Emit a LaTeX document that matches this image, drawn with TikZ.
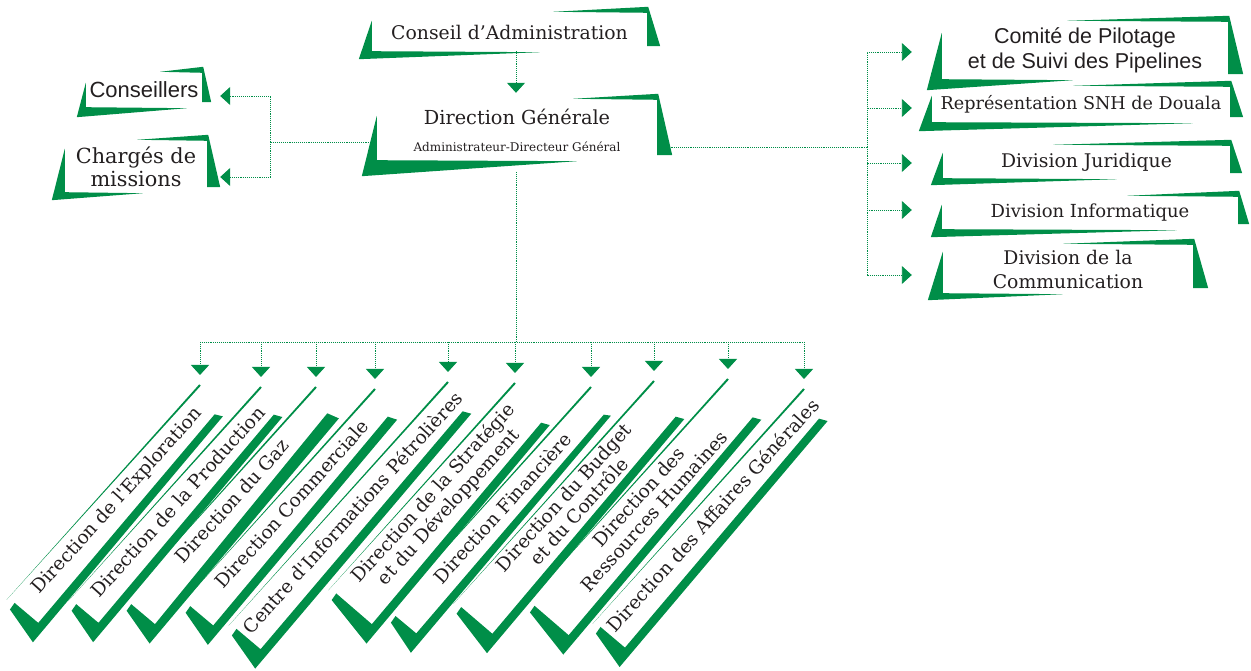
\documentclass[tikz,border=0pt]{standalone}
\usepackage{fontspec}
\setmainfont{DejaVu Serif}
\newfontfamily\sansfont{Liberation Sans}
\usetikzlibrary{arrows.meta}
\definecolor{snhgreen}{RGB}{0,142,72}
\definecolor{inkgray}{RGB}{35,31,32}

% green corners of an upright box: node, top tip, bottom tip, spread, band
\newcommand{\upribbon}[5]{%
  \fill[ribbon] ([xshift=-#2,yshift=1pt]#1.north east) -- ([xshift=1pt,yshift=6pt]#1.north east)
    -- ([xshift=#4,yshift=5pt]#1.south east) -- ([yshift=5pt]#1.south east) -- (#1.north east) -- cycle;
  \fill[ribbon] ([yshift=-#5]#1.north west) -- (#1.south west) -- ([xshift=#3,yshift=-1pt]#1.south west)
    -- ([xshift=-#4,yshift=-#5]#1.south west) -- cycle;}

% tilted box: name, top end x, y, length, height, bar width, text
\newcommand{\tiltbox}[7]{%
  \begin{scope}[shift={(#2,#3)},rotate=48]
    \fill[ribbon] (0,1) -- (-#4+14,0) -- (0,-1) -- cycle;
    \fill[ribbon] (-#4+9,-9) -- (-#4+17,-8) -- (-#4+18,-#5-1) -- (-12,-#5+#6)
      -- (-8,-#5) -- (-#4,-#5-10) -- cycle;
    \node[tilt] (#1) at (-#4/2+10,{-(#5-#6)/2-1}) {#7};
    \coordinate (#1-top) at (0,0);
  \end{scope}}

\begin{document}
\begin{tikzpicture}[x=1pt,y=1pt,
    dotline/.style={snhgreen,densely dotted,line width=0.9pt},
    flowarrow/.style={-{Triangle[width=18pt,length=10pt]}},
    ribbon/.style={fill=snhgreen},
    box/.style={inner sep=0pt,align=center,text=inkgray,font=\fontsize{18.8}{24}\selectfont},
    tilt/.style={inner sep=0pt,align=center,rotate=48,text=inkgray,font=\fontsize{18.6}{21}\selectfont}]
    \useasboundingbox (0,0) rectangle (1251,670);

    % upper boxes
    \node[box,minimum width=275,minimum height=38](ca) at (509.5,638) {Conseil d’Administration};
    \node[box,minimum width=280,minimum height=60](dg) at (517,540) {{\fontsize{19.3}{24}\selectfont Direction Générale}\\[3pt]{\fontsize{12}{15}\selectfont Administrateur-Directeur Général}};
    \node[box,minimum width=116,minimum height=34,font=\sansfont\fontsize{22}{26}\selectfont](cons) at (144,580) {Conseillers};
    \node[box,minimum width=142,minimum height=51,font=\fontsize{20.8}{23}\selectfont](charg) at (136,503.5) {Chargés de\\missions};
    \node[box,minimum width=286,minimum height=57,font=\sansfont\fontsize{21.5}{25}\selectfont](cpsp) at (1085,619.5) {Comité de Pilotage\\et de Suivi des Pipelines};
    \node[box,minimum width=298,minimum height=35,font=\fontsize{17.6}{22}\selectfont](rep) at (1081,565.5) {Représentation SNH de Douala};
    \node[box,minimum width=287,minimum height=32](jur) at (1086.5,508) {Division Juridique};
    \node[box,minimum width=296,minimum height=32,font=\fontsize{18}{22}\selectfont](info) at (1090,457) {Division Informatique};
    \node[box,minimum width=250,minimum height=48](comm) at (1068,401) {Division de la\\Communication};

    % links
    \coordinate (lhub) at (270,528);
    \coordinate (rhub) at (867,523);
    \coordinate (bus) at (516,328);
    \draw[dotline,flowarrow] (bus |- ca.south) -- ([yshift=7pt]dg.north -| bus);
    \draw[dotline] (dg.west |- lhub) -- (lhub);
    \draw[dotline,flowarrow] (lhub) |- ([xshift=18pt,yshift=-6pt]cons.east);
    \draw[dotline,flowarrow] (lhub) |- ([xshift=13pt,yshift=-10.5pt]charg.east);
    \draw[dotline] (dg.east |- rhub) -- (rhub);
    \draw[dotline,flowarrow] (rhub) |- ([xshift=-30pt,yshift=-1.5pt]cpsp.west);
    \draw[dotline,flowarrow] (rhub) |- ([xshift=-20pt,yshift=-3.5pt]rep.west);
    \draw[dotline,flowarrow] (rhub) |- ([xshift=-31pt,yshift=-1pt]jur.west);
    \draw[dotline,flowarrow] (rhub) |- ([xshift=-30pt,yshift=3pt]info.west);
    \draw[dotline,flowarrow] (rhub) |- ([xshift=-31pt,yshift=-6pt]comm.west);
    \draw[dotline] (bus |- dg.south) ++(0,-12) -- (bus);

    % green corners
    \upribbon{ca}{94pt}{168pt}{13pt}{8pt}
    \upribbon{dg}{84pt}{200pt}{15pt}{16pt}
    \upribbon{cons}{42pt}{101pt}{9pt}{10pt}
    \upribbon{charg}{70pt}{78pt}{13pt}{8pt}
    \upribbon{cpsp}{161pt}{131pt}{15pt}{11pt}
    \upribbon{rep}{157pt}{261pt}{13pt}{9pt}
    \upribbon{jur}{177pt}{174pt}{12pt}{7pt}
    \upribbon{info}{111pt}{235pt}{11pt}{8pt}
    \upribbon{comm}{130pt}{120pt}{15pt}{7pt}

    % lower boxes
    \tiltbox{exp}{200}{285}{303}{38}{7.5}{Direction de l\textquotesingle Exploration}
    \tiltbox{prod}{261}{283}{302}{36}{8}{Direction de la Production}
    \tiltbox{gaz}{316}{283}{302}{38}{12}{Direction du Gaz}
    \tiltbox{com}{375}{281}{302}{37}{9}{Direction Commerciale}
    \tiltbox{cip}{448}{288}{342}{38.5}{8}{Centre d\textquotesingle Informations Pétrolières}
    \tiltbox{strat}{515}{287}{293}{54}{8}{Direction de la Stratégie\\et du Développement}
    \tiltbox{fin}{591}{283}{318}{34}{6}{Direction Financière}
    \tiltbox{budg}{654}{289}{314}{48}{8}{Direction du Budget\\et du Contrôle}
    \tiltbox{rh}{728}{291}{315}{52}{8}{Direction des\\Ressources Humaines}
    \tiltbox{aff}{804}{281}{330}{39}{8}{Direction des Affaires Générales}

    \draw[dotline] (exp-top |- bus) -- (aff-top |- bus);
    \foreach \b in {exp,prod,gaz,com,cip,strat,fin,budg,rh,aff}
        \draw[dotline,flowarrow] (\b-top |- bus) -- ([yshift=10pt]\b-top);
\end{tikzpicture}
\end{document}
